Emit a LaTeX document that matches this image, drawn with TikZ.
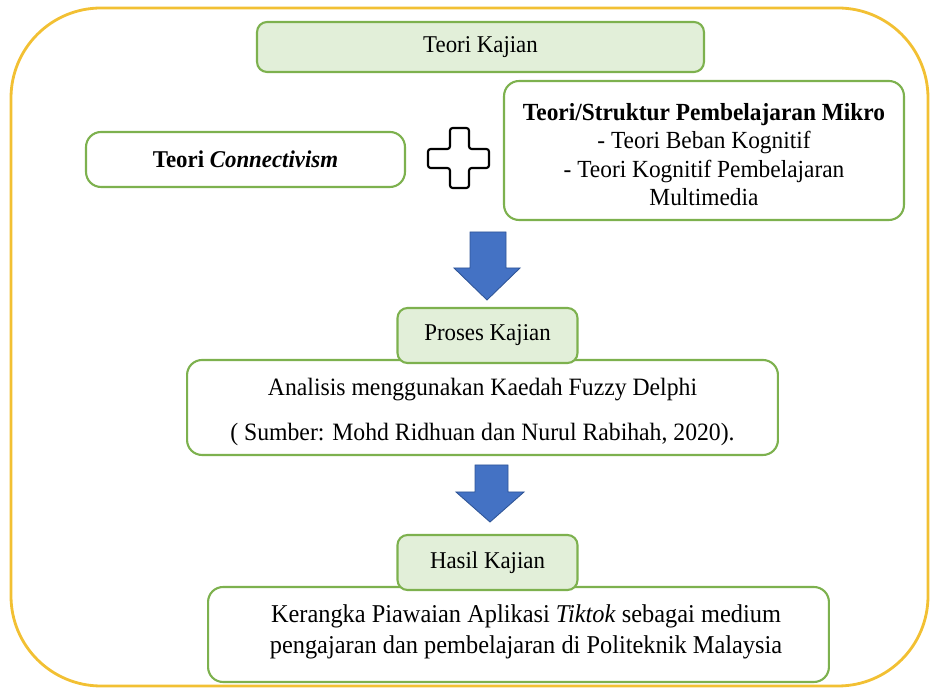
\documentclass[tikz,border=0pt]{standalone}
\usepackage{fontspec}
\setmainfont{Liberation Serif}[FakeStretch=0.95]
\definecolor{gborder}{HTML}{7DB14E}
\definecolor{gfill}{HTML}{E2EFD9}
\definecolor{yel}{HTML}{F2C033}
\definecolor{arrblue}{HTML}{4472C4}
\definecolor{arredge}{HTML}{2F5597}
\begin{document}
\begin{tikzpicture}[x=0.02cm,y=-0.02cm,
  every node/.style={font=\fontsize{13.7}{16}\selectfont},
  wbox/.style={draw=gborder, line width=1.2pt, fill=white, rounded corners=0.3cm, inner sep=0pt, align=center},
  hbox/.style={draw=gborder, line width=1.2pt, fill=gfill, rounded corners=0.2cm, inner sep=0pt, align=center},
  txt/.style={inner sep=0pt, align=center},
  barrow/.style={fill=arrblue, draw=arredge, line width=0.5pt, line join=miter}]
\useasboundingbox (0,0) rectangle (931,688);
\draw[yel, line width=1.6pt, rounded corners=1.8cm] (11,8) rectangle (928,686);

\node[hbox, minimum width=8.94cm, minimum height=1.0cm] (tk) at (480.5,47) {Teori Kajian};

\node[wbox, minimum width=6.38cm, minimum height=1.1cm] (conn) at (245.5,159.5)
  {\textbf{Teori \textit{Connectivism}}};

\node[wbox, minimum width=8.0cm, minimum height=2.78cm] (mikro) at (704,150.5) {};
\node[txt, font=\fontsize{14}{16.2}\selectfont] (mikrotxt) at ([yshift=-0.08cm]mikro.center)
  {\textbf{Teori/Struktur Pembelajaran Mikro}\\- Teori Beban Kognitif\\- Teori Kognitif Pembelajaran\\Multimedia};

% plus sign
\draw[black, line width=1.2pt, rounded corners=1.5pt]
  (450,128) -- (469,128) -- (469,149) -- (489,149) -- (489,168) -- (469,168)
  -- (469,188) -- (450,188) -- (450,168) -- (428,168) -- (428,149) -- (450,149) -- cycle;
\coordinate (plus) at (459,158);

% first arrow
\coordinate (a1tip) at (487,300);
\draw[barrow] (470,232) -- (506,232) -- (506,268) -- (520,268) -- (a1tip)
  -- (454,268) -- (470,268) -- cycle;

\node[wbox, minimum width=11.82cm, minimum height=1.9cm] (anal) at (482.5,407.5) {};
\node[txt, font=\fontsize{14.2}{26}\selectfont] (analtxt) at ([yshift=-0.09cm]anal.center)
  {Analisis menggunakan Kaedah Fuzzy Delphi\\( Sumber: Mohd Ridhuan dan Nurul Rabihah, 2020).};
\node[hbox, minimum width=3.6cm, minimum height=1.1cm] (proses) at (487.5,335.5) {Proses Kajian};

% second arrow
\coordinate (a2tip) at (490,522);
\draw[barrow] (475,465) -- (508,465) -- (508,492) -- (524,492) -- (a2tip)
  -- (456,492) -- (475,492) -- cycle;

\node[wbox, minimum width=12.42cm, minimum height=1.9cm] (final) at (518.5,634.5) {};
\node[txt, font=\fontsize{14.6}{17.6}\selectfont] (finaltxt) at ([xshift=0.15cm,yshift=0.06cm]final.center)
  {Kerangka Piawaian Aplikasi \textit{Tiktok} sebagai medium\\pengajaran dan pembelajaran di Politeknik Malaysia};
\node[hbox, minimum width=3.6cm, minimum height=1.1cm] (hasil) at (487.5,562.5) {Hasil Kajian};
\end{tikzpicture}
\end{document}
